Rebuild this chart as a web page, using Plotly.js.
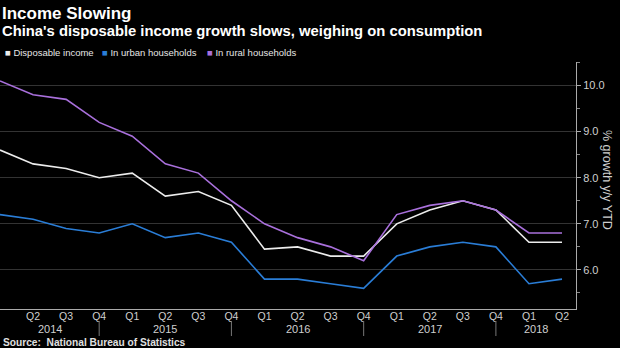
<!DOCTYPE html>
<html>
<head>
<meta charset="utf-8">
<script src="https://cdn.plot.ly/plotly-3.0.1.min.js"></script>
<style>
html,body{margin:0;padding:0;background:#000;}
#chart{width:620px;height:348px;}
</style>
</head>
<body>
<div id="chart"></div>
<script>
// ---- data ----
const quarters = ['Q1','Q2','Q3','Q4','Q1','Q2','Q3','Q4','Q1','Q2','Q3','Q4','Q1','Q2','Q3','Q4','Q1','Q2'];
const years = ['2014','2015','2016','2017','2018'];
const yearLabelPos = [1.5, 5, 9, 13, 16.2];
const yearSeparators = [3, 7, 11, 15];
const disposable = [8.6, 8.3, 8.2, 8.0, 8.1, 7.6, 7.7, 7.4, 6.45, 6.5, 6.3, 6.3, 7.0, 7.3, 7.5, 7.3, 6.6, 6.6];
const urban      = [7.2, 7.1, 6.9, 6.8, 7.0, 6.7, 6.8, 6.6, 5.8, 5.8, 5.7, 5.6, 6.3, 6.5, 6.6, 6.5, 5.7, 5.8];
const rural      = [10.1, 9.8, 9.7, 9.2, 8.9, 8.3, 8.1, 7.5, 7.0, 6.7, 6.5, 6.2, 7.2, 7.4, 7.5, 7.3, 6.8, 6.8];
const seriesNames = ['Disposable income', 'In urban households', 'In rural households'];
const colors = ['#ececec', '#2a7dd6', '#a970dc'];

const xIdx = quarters.map((q, i) => i);
const SANS = '"Liberation Sans", Arial, sans-serif';

const traces = [disposable, urban, rural].map((ys, k) => ({
  x: xIdx, y: ys, type: 'scatter', mode: 'lines', name: seriesNames[k],
  line: {color: colors[k], width: 1.6}, hoverinfo: 'skip'
}));

const W = 576, PLOT_TOP = 62, PLOT_BOT = 309, H = PLOT_BOT - PLOT_TOP;
const px = v => v / W;
const py = v => (PLOT_BOT - v) / H;

const annotations = [
  {text: '<b>Income Slowing</b>', x: 0, y: py(14), xref: 'paper', yref: 'paper', xanchor: 'left', yanchor: 'middle', showarrow: false, font: {family: SANS, size: 17, color: '#ffffff'}},
  {text: "<b>China's disposable income growth slows, weighing on consumption</b>", x: 0, y: py(31), xref: 'paper', yref: 'paper', xanchor: 'left', yanchor: 'middle', showarrow: false, font: {family: SANS, size: 14.8, color: '#ffffff'}},
  {text: '<b>Source:  National Bureau of Statistics</b>', x: px(1), y: py(342), xref: 'paper', yref: 'paper', xanchor: 'left', yanchor: 'middle', showarrow: false, font: {family: SANS, size: 10.2, color: '#e0e0e0'}},
  {text: '% growth y/y YTD', x: px(607), y: py(180), xref: 'paper', yref: 'paper', xanchor: 'center', yanchor: 'middle', textangle: 90, showarrow: false, font: {family: SANS, size: 12.5, color: '#cfcfcf'}}
];
const legendX = [3, 100, 205];
seriesNames.forEach((n, k) => {
  annotations.push({text: '<span style="color:' + colors[k] + '">■</span> ' + n, x: px(legendX[k]), y: py(52), xref: 'paper', yref: 'paper', xanchor: 'left', yanchor: 'middle', showarrow: false, font: {family: SANS, size: 9.5, color: '#e6e6e6'}});
});
years.forEach((yr, i) => {
  annotations.push({text: yr, x: yearLabelPos[i], y: py(329), xref: 'x', yref: 'paper', xanchor: 'center', yanchor: 'middle', showarrow: false, font: {family: SANS, size: 11, color: '#cfcfcf'}});
});

const shapes = yearSeparators.map(s => ({
  type: 'line', xref: 'x', yref: 'paper', x0: s, x1: s, y0: py(321), y1: py(336),
  line: {color: '#777', width: 1}
}));

const tickVals = xIdx.slice(1);
const tickText = quarters.slice(1);

const layout = {
  width: 620, height: 348,
  margin: {l: 0, r: 620 - W, t: PLOT_TOP, b: 348 - PLOT_BOT, pad: 0},
  paper_bgcolor: '#000', plot_bgcolor: '#000',
  showlegend: false,
  xaxis: {
    range: [0, W / 33.06], tickvals: tickVals, ticktext: tickText,
    showgrid: false, zeroline: false, showline: true, linecolor: '#aaaaaa', linewidth: 1,
    ticks: '', ticklabelstandoff: -3, tickfont: {family: SANS, size: 10.5, color: '#cfcfcf'}, fixedrange: true
  },
  yaxis: {
    side: 'right', range: [5.152, 10.51], dtick: 1, tick0: 0, tickformat: '.1f',
    showgrid: true, gridcolor: '#333333', gridwidth: 1, zeroline: false,
    showline: true, linecolor: '#aaaaaa', linewidth: 1,
    ticks: 'outside', ticklen: 4, tickcolor: '#aaaaaa',
    minor: {dtick: 0.5, ticks: 'outside', ticklen: 3, tickcolor: '#888888', showgrid: false},
    tickfont: {family: SANS, size: 11, color: '#cfcfcf'}, fixedrange: true
  },
  annotations: annotations,
  shapes: shapes
};

Plotly.newPlot('chart', traces, layout, {displayModeBar: false, staticPlot: true});
</script>
</body>
</html>
